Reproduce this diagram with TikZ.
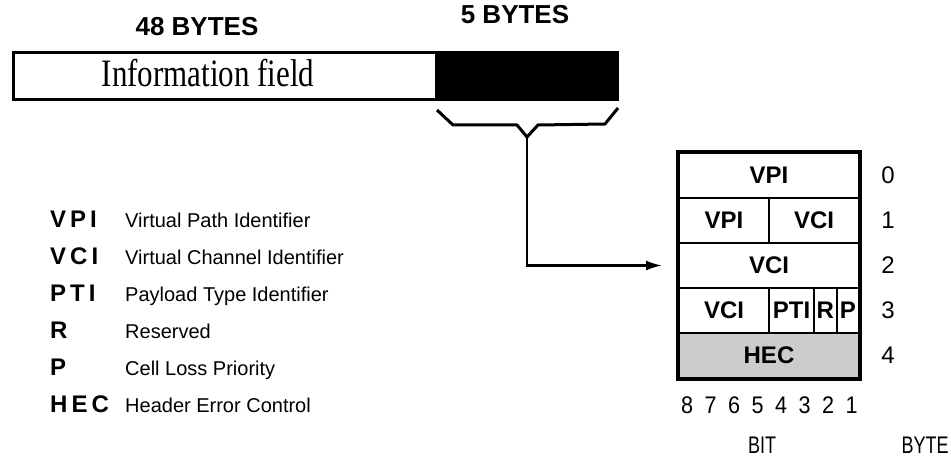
\documentclass[tikz,border=0pt]{standalone}
\usepackage{fontspec}
\setmainfont{Liberation Serif}
\setsansfont{Liberation Sans}
\usepackage{graphicx}
\usepackage{tikz}
\usetikzlibrary{arrows.meta,positioning}

\begin{document}
\begin{tikzpicture}[
    x=1pt, y=-1pt,
    cell/.style={draw, line width=2pt, minimum height=45, inner sep=0pt, font=\sffamily\bfseries\fontsize{24}{26}\selectfont},
    abbr/.style={anchor=base west, inner sep=0pt, font=\sffamily\bfseries\fontsize{24}{26}\selectfont},
    descr/.style={anchor=base west, inner sep=0pt, font=\sffamily\fontsize{20}{22}\selectfont},
    plain/.style={inner sep=0pt, font=\sffamily\fontsize{24}{26}\selectfont},
    bytelabel/.style={inner sep=0pt, font=\sffamily\bfseries\fontsize{26}{28}\selectfont},
]
\useasboundingbox (0,0) rectangle (951,462);

% the cell: payload and header
\node[bytelabel] (lenInfo) at (197,27) {48 BYTES};
\node[bytelabel] (lenHdr) at (515,15) {5 BYTES};
\node[draw, line width=3pt, minimum width=423, minimum height=47] (info) at (224.5,76.5) {};
\node[draw, line width=3pt, fill=black, minimum width=181, minimum height=47] (hdr) at (526.5,76.5) {};
\node[inner sep=0pt, font=\fontsize{31}{34}\selectfont] (infotext) at (208,73) {\scalebox{1}[1.25]{Information field}};

% brace under the header
\coordinate (tip) at (527,137);
\draw[line width=3pt, line join=round] (437,110) -- (453,125) -- (517,125) -- (tip) -- (538,125) -- (605,124) -- (618,108);

% header layout
\node[cell, minimum width=180] (r0) at (769,175.5) {VPI};
\node[cell, minimum width=90] (r1a) at (724,220.5) {VPI};
\node[cell, minimum width=90] (r1b) at (814,220.5) {VCI};
\node[cell, minimum width=180] (r2) at (769,265.5) {VCI};
\node[cell, minimum width=90] (r3a) at (724,310.5) {VCI};
\node[cell, minimum width=45] (r3b) at (791.5,310.5) {PTI};
\node[cell, minimum width=22.5] (r3c) at (825.25,310.5) {R};
\node[cell, minimum width=22.5] (r3d) at (847.75,310.5) {P};
\node[cell, minimum width=180, fill=gray!40] (r4) at (769,355.5) {HEC};
\draw[line width=3.2pt] (r0.north west) rectangle (r4.south east);

\draw[line width=2.2pt, -{Latex[length=16pt,width=10pt]}, shorten >=16pt] (tip) |- (r2.west);

\foreach \k in {0,...,4}
    \node[plain] (byte\k) at (888,175.5+45*\k) {\k};
\foreach \b [count=\i from 0] in {8,7,...,1}
    \node[plain] (bit\b) at (687+23.5*\i,405) {\scalebox{0.9}[1]{\b}};
\node[plain] (bitlbl) at (762,445) {\scalebox{0.75}[1]{BIT}};
\node[plain] (bytelbl) at (925,445) {\scalebox{0.75}[1]{BYTE}};

% legend
\node[abbr] (kVPI) at (50,228) {V\kern4pt P\kern4pt I};
\node[descr] (dVPI) at (125,228) {Virtual Path Identifier};
\node[abbr] (kVCI) at (50,265) {V\kern4pt C\kern4pt I};
\node[descr] (dVCI) at (125,265) {Virtual Channel Identifier};
\node[abbr] (kPTI) at (50,302) {P\kern4pt T\kern4pt I};
\node[descr] (dPTI) at (125,302) {Payload Type Identifier};
\node[abbr] (kR) at (50,339) {R};
\node[descr] (dR) at (125,339) {Reserved};
\node[abbr] (kP) at (50,376) {P};
\node[descr] (dP) at (125,376) {Cell Loss Priority};
\node[abbr] (kHEC) at (50,413) {H\kern4pt E\kern4pt C};
\node[descr] (dHEC) at (125,413) {Header Error Control};
\end{tikzpicture}
\end{document}
